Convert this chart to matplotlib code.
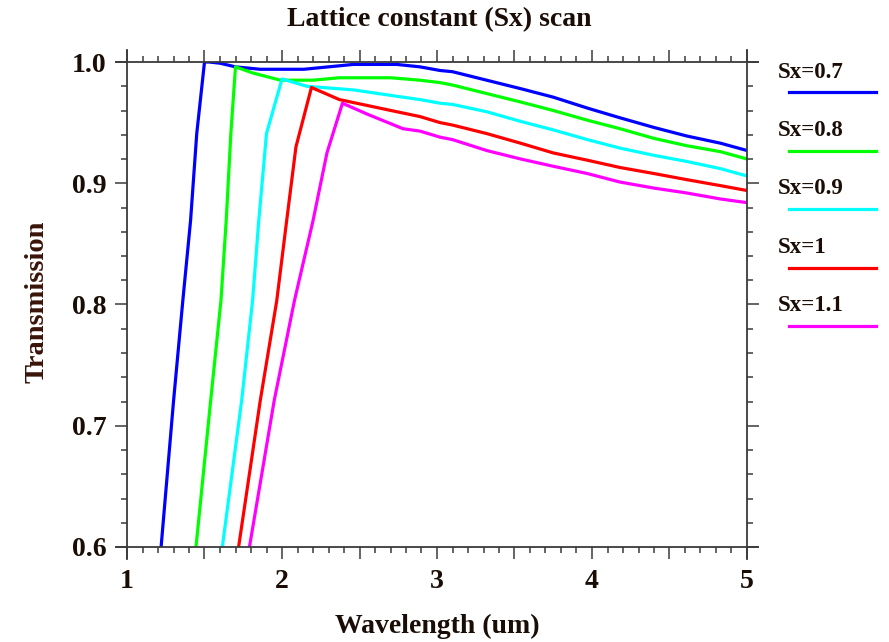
import matplotlib
matplotlib.use("Agg")
import matplotlib.pyplot as plt
from matplotlib.ticker import MultipleLocator, FuncFormatter
from matplotlib.lines import Line2D

# ---- data ----
series_labels = ["Sx=0.7", "Sx=0.8", "Sx=0.9", "Sx=1", "Sx=1.1"]
series_colors = ["#0000ff", "#00ff00", "#00ffff", "#ff0000", "#ff00ff"]

wl_07 = [1.22, 1.26, 1.30, 1.36, 1.41, 1.45, 1.50, 1.53, 1.60, 1.70, 1.86, 2.00, 2.14, 2.30, 2.46,
         2.74, 2.89, 3.02, 3.10, 3.32, 3.54, 3.75, 3.97, 4.18, 4.40, 4.61, 4.83, 5.00]
t_07 = [0.600, 0.660, 0.720, 0.803, 0.869, 0.941, 1.000, 1.000, 0.999, 0.996, 0.994, 0.994, 0.994, 0.996, 0.998,
        0.998, 0.996, 0.993, 0.992, 0.985, 0.978, 0.971, 0.962, 0.954, 0.946, 0.939, 0.933, 0.927]

wl_08 = [1.445, 1.54, 1.606, 1.64, 1.67, 1.70, 1.81, 1.99, 2.20, 2.37, 2.70, 2.89, 3.02, 3.10, 3.32,
         3.54, 3.75, 3.97, 4.18, 4.40, 4.61, 4.83, 5.00]
t_08 = [0.600, 0.721, 0.803, 0.869, 0.941, 0.996, 0.991, 0.985, 0.985, 0.987, 0.987, 0.985, 0.983, 0.981, 0.974,
        0.967, 0.960, 0.952, 0.945, 0.937, 0.931, 0.926, 0.920]

wl_09 = [1.615, 1.74, 1.81, 1.85, 1.90, 2.00, 2.16, 2.46, 2.78, 2.89, 3.02, 3.10, 3.32, 3.54, 3.75,
         3.97, 4.18, 4.40, 4.61, 4.83, 5.00]
t_09 = [0.600, 0.721, 0.803, 0.869, 0.941, 0.986, 0.980, 0.977, 0.971, 0.969, 0.966, 0.965, 0.959, 0.951, 0.944,
        0.936, 0.929, 0.923, 0.918, 0.912, 0.906]

wl_10 = [1.72, 1.86, 1.966, 2.03, 2.09, 2.19, 2.37, 2.74, 2.89, 3.02, 3.10, 3.32, 3.54, 3.75, 3.97,
         4.18, 4.40, 4.61, 4.83, 5.00]
t_10 = [0.600, 0.721, 0.803, 0.869, 0.930, 0.979, 0.969, 0.959, 0.955, 0.950, 0.948, 0.941, 0.933, 0.925, 0.919,
        0.913, 0.908, 0.903, 0.898, 0.894]

wl_11 = [1.79, 1.95, 2.08, 2.20, 2.29, 2.39, 2.55, 2.78, 2.89, 3.02, 3.10, 3.32, 3.54, 3.75, 3.97,
         4.18, 4.40, 4.61, 4.83, 5.00]
t_11 = [0.600, 0.721, 0.803, 0.869, 0.925, 0.966, 0.957, 0.945, 0.943, 0.938, 0.936, 0.927, 0.920, 0.914, 0.908,
        0.901, 0.896, 0.892, 0.887, 0.884]

wavelengths = [wl_07, wl_08, wl_09, wl_10, wl_11]
transmissions = [t_07, t_08, t_09, t_10, t_11]

x_tick_labels = ["1", "2", "3", "4", "5"]
y_tick_labels = ["0.6", "0.7", "0.8", "0.9", "1.0"]

# ---- figure ----
W, H = 889, 642
fig = plt.figure(figsize=(W / 100, H / 100), dpi=100)
ax = fig.add_axes([127 / W, 1 - 547 / H, (747 - 127) / W, (547 - 62) / H])

serif = "Liberation Serif"
txt_col = "#1a0d05"
spine_col = "#3a3a3a"

for wl, t, c in zip(wavelengths, transmissions, series_colors):
    ax.plot(wl, t, color=c, lw=2.3, solid_joinstyle="round", clip_on=True)

ax.set_xlim(1, 5)
ax.set_ylim(0.6, 1.0)

ax.xaxis.set_major_locator(MultipleLocator(0.5))
ax.xaxis.set_minor_locator(MultipleLocator(0.1))
ax.yaxis.set_major_locator(MultipleLocator(0.1))
ax.yaxis.set_minor_locator(MultipleLocator(0.02))


def xfmt(v, pos):
    for lab in x_tick_labels:
        if abs(v - float(lab)) < 1e-6:
            return lab
    return ""


def yfmt(v, pos):
    for lab in y_tick_labels:
        if abs(v - float(lab)) < 1e-6:
            return lab
    return ""


ax.xaxis.set_major_formatter(FuncFormatter(xfmt))
ax.yaxis.set_major_formatter(FuncFormatter(yfmt))

ax.tick_params(which="both", direction="out", top=True, right=True,
               color=spine_col, width=1.1)
ax.tick_params(which="major", length=8.5)
ax.tick_params(which="minor", length=4.5)
ax.tick_params(axis="x", which="major", pad=7)
ax.tick_params(axis="y", which="major", pad=6)

for lab in ax.get_xticklabels() + ax.get_yticklabels():
    lab.set_fontfamily(serif)
    lab.set_fontweight("bold")
    lab.set_fontsize(20)
    lab.set_color(txt_col)

for s in ax.spines.values():
    s.set_color(spine_col)
    s.set_linewidth(1.3)
ax.spines["top"].set_bounds(0.93, 5.07)
ax.spines["bottom"].set_bounds(0.93, 5.07)
ax.spines["left"].set_bounds(0.59, 1.01)
ax.spines["right"].set_bounds(0.59, 1.01)

fig.text(439 / W, 1 - 20 / H, "Lattice constant (Sx) scan", ha="center", va="center",
         fontfamily=serif, fontweight="bold", fontsize=20, color=txt_col)
fig.text(437 / W, 1 - 626 / H, "Wavelength (um)", ha="center", va="center",
         fontfamily=serif, fontweight="bold", fontsize=20, color=txt_col)
fig.text(37 / W, 1 - 302 / H, "Transmission", ha="center", va="center", rotation=90,
         fontfamily=serif, fontweight="bold", fontsize=20.5, color="#3a1408")

# legend (text above a line segment)
for i, (lab, c) in enumerate(zip(series_labels, series_colors)):
    ty = 72 + i * 58.5
    ly = 92 + i * 58.5
    fig.text(778 / W, 1 - ty / H, lab, ha="left", va="center",
             fontfamily=serif, fontweight="bold", fontsize=16.5, color=txt_col)
    fig.add_artist(Line2D([789 / W, 876 / W], [1 - ly / H, 1 - ly / H],
                          transform=fig.transFigure, color=c, lw=2.3))

fig.savefig("out.png", dpi=100, facecolor="white")
